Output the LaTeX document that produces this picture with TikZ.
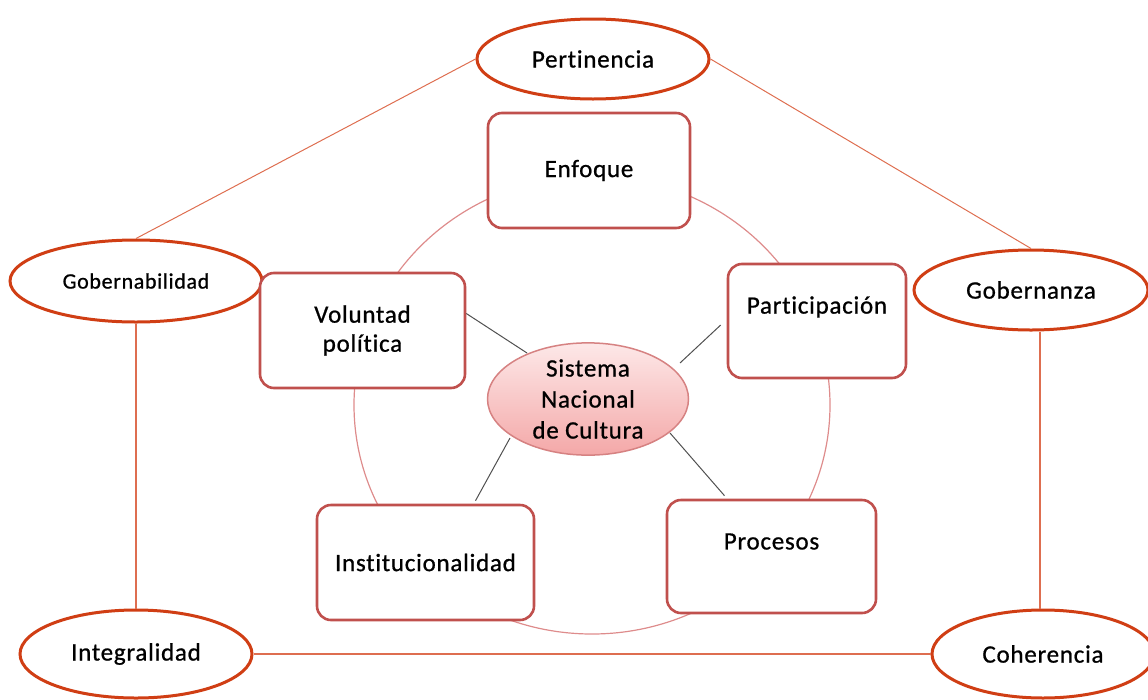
\documentclass[tikz,border=0pt]{standalone}
\usepackage{fontspec}
\setmainfont{Carlito}[Ligatures=NoCommon, LetterSpace=3, FakeBold=0.8]
\usetikzlibrary{shapes.geometric}
\definecolor{outerred}{RGB}{208,62,20}
\definecolor{boxred}{RGB}{192,80,77}
\definecolor{ringpink}{RGB}{222,140,140}
\definecolor{linkorange}{RGB}{222,110,80}
\definecolor{spokegray}{RGB}{80,80,80}
\definecolor{systop}{RGB}{253,232,232}
\definecolor{sysbot}{RGB}{244,168,168}
\definecolor{sysline}{RGB}{214,130,130}
\tikzset{
  outer/.style={ellipse, draw=outerred, line width=3pt, fill=white, minimum width=#1, inner sep=0pt, font=\fontsize{25}{29}\selectfont},
  box/.style={draw=boxred, line width=2.6pt, rounded corners=14pt, fill=white, inner sep=0pt, align=center, font=\fontsize{25}{29}\selectfont},
  link/.style={draw=linkorange, line width=1pt},
  vlink/.style={draw=linkorange, line width=2pt},
  spoke/.style={draw=spokegray, line width=1pt},
  ring/.style={draw=ringpink, line width=1.2pt},
}
\begin{document}
\begin{tikzpicture}[x=1pt,y=-1pt]
\useasboundingbox (0,0) rectangle (1148,699);
% ring
\draw[ring] (592,405) ellipse [x radius=238, y radius=229];
% outer ellipses
\node[outer, minimum width=232pt, minimum height=80pt] (per) at (593,59) {Pertinencia};
\node[outer, minimum width=252pt, minimum height=82pt, font=\fontsize{22}{26}\selectfont] (gob) at (136,281) {Gobernabilidad};
\node[outer, minimum width=234pt, minimum height=80pt] (gza) at (1031,290) {Gobernanza};
\node[outer, minimum width=232pt, minimum height=88pt] (int) at (136,654) {Integralidad};
\node[outer, minimum width=222pt, minimum height=88pt] (coh) at (1043,654) {Coherencia};
% outer links
\draw[link] (per.west) -- (gob.north);
\draw[link] (per.east) -- (gza.north);
\draw[vlink] (gob.south) -- (int.north);
\draw[vlink] ([xshift=9pt]gza.south) -- ([xshift=-3pt]coh.north);
\draw[vlink] (int.east) -- (coh.west);
% boxes
\node[box, minimum width=202pt, minimum height=115pt] (enf) at (589,170.5) {Enfoque};
\node[box, minimum width=178pt, minimum height=114pt,
  label={[yshift=14pt, font=\fontsize{25}{29}\selectfont]center:Participación}] (par) at (817,321) {};
\node[box, minimum width=205pt, minimum height=115pt] (vol) at (362.5,330.5) {Voluntad\\política};
\node[box, minimum width=217pt, minimum height=115pt] (ins) at (425.5,562.5) {Institucionalidad};
\node[box, minimum width=209pt, minimum height=113pt,
  label={[yshift=15pt, font=\fontsize{25}{29}\selectfont]center:Procesos}] (pro) at (771.5,556.5) {};
% center
\node[ellipse, draw=sysline, line width=1.5pt, top color=systop, bottom color=sysbot,
  minimum width=201pt, minimum height=108pt, inner sep=0pt, align=center,
  font=\fontsize{25}{31}\selectfont] (sys) at (588,399) {Sistema\\Nacional\\de Cultura};
% spokes
\draw[spoke] ([yshift=17pt]vol.east) -- ([shift={(-61pt,46pt)}]sys.center);
\draw[spoke] ([shift={(-6pt,-4pt)}]par.west) -- ([shift={(92pt,36pt)}]sys.center);
\draw[spoke] ([shift={(50pt,3pt)}]ins.north) -- ([shift={(-78pt,-39pt)}]sys.center);
\draw[spoke] ([shift={(-47pt,3pt)}]pro.north) -- ([shift={(82pt,-34pt)}]sys.center);
\end{tikzpicture}
\end{document}
